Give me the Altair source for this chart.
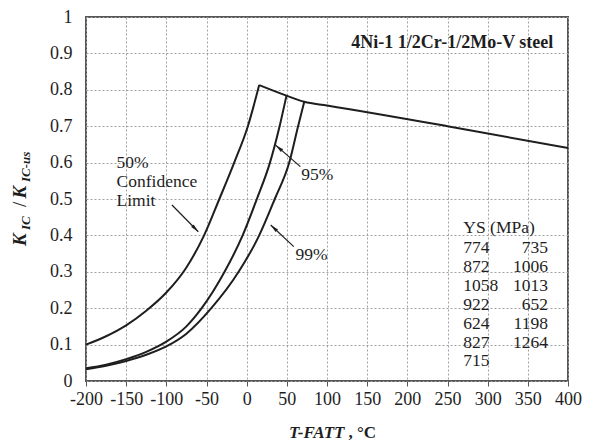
import math
import altair as alt
import pandas as pd

# ---------------- data ----------------
x50 = [-200, -175, -150, -125, -100, -75, -53, -34, -15.5, 1.5, 15.6]
y50 = [0.100, 0.123, 0.153, 0.193, 0.243, 0.312, 0.40, 0.50, 0.60, 0.70, 0.813]

x95 = [-200, -175, -150, -125, -100, -75, -56, -27.5, -5, 12.7, 29, 41, 49.6]
y95 = [0.035, 0.045, 0.060, 0.080, 0.108, 0.150, 0.20, 0.30, 0.40, 0.50, 0.60, 0.70, 0.784]

x99 = [-200, -175, -150, -125, -100, -75, -44, -10, 15.6, 35, 53, 64, 71.7]
y99 = [0.032, 0.042, 0.055, 0.072, 0.095, 0.130, 0.20, 0.30, 0.40, 0.50, 0.60, 0.70, 0.767]

xenv = [15.6, 49.6, 71.7, 100, 250, 400]
yenv = [0.813, 0.784, 0.767, 0.757, 0.70, 0.64]

x_ticks = list(range(-200, 401, 50))
y_ticks = [round(i * 0.1, 1) for i in range(11)]

ys_left = ["774", "872", "1058", "922", "624", "827", "715"]
ys_right = ["735", "1006", "1013", "652", "1198", "1264"]

title_text = "4Ni-1 1/2Cr-1/2Mo-V steel"

# ---------------- layout ----------------
W, H = 482, 364
XMIN, XMAX, YMIN, YMAX = -200, 400, 0, 1
PX_X = W / (XMAX - XMIN)
PX_Y = H / (YMAX - YMIN)
LEFT, TOP, RIGHT, BOTTOM = 78, 9, 14, 62
OX, OY = 8 + LEFT, 8 + TOP   # page position of the plot origin
FONT = "Liberation Serif"
INK = "#1e1e1e"
GRID = "#a0a0a0"

xs = alt.Scale(domain=[XMIN, XMAX], nice=False, zero=False)
ys = alt.Scale(domain=[YMIN, YMAX], nice=False, zero=False)

curves = pd.concat([
    pd.DataFrame({"x": x50, "y": y50, "s": "50"}),
    pd.DataFrame({"x": x95, "y": y95, "s": "95"}),
    pd.DataFrame({"x": x99, "y": y99, "s": "99"}),
    pd.DataFrame({"x": xenv, "y": yenv, "s": "env"}),
])

xaxis = alt.Axis(values=x_ticks, labelExpr="'' + datum.value",
                 grid=True, gridColor=GRID, gridDash=[2, 2], gridWidth=1, gridOpacity=1,
                 tickSize=5, tickColor="#555", tickWidth=1, domain=False,
                 labelOverlap=False, labelFlush=False,
                 labelFont=FONT, labelFontSize=18, labelColor=INK,
                 labelPadding=4, title=None)
yaxis = alt.Axis(values=y_ticks,
                 labelExpr="datum.value == 0 ? '0' : (datum.value == 1 ? '1' : format(datum.value, '.1f'))",
                 grid=True, gridColor=GRID, gridDash=[2, 2], gridWidth=1, gridOpacity=1,
                 ticks=False, tickSize=0, domain=False,
                 labelOverlap=False, labelFlush=False,
                 labelFont=FONT, labelFontSize=18, labelColor=INK,
                 labelPadding=14, title=None)

lines = alt.Chart(curves).mark_line(interpolate="monotone", color=INK, strokeWidth=2).encode(
    x=alt.X("x:Q", scale=xs, axis=xaxis),
    y=alt.Y("y:Q", scale=ys, axis=yaxis),
    detail="s:N",
)

# arrows
arrows = pd.DataFrame({
    "ax1": [-93, 66.8, 58.6],
    "ay1": [0.4835, 0.589, 0.369],
    "ax2": [-60.2, 36.1, 29.9],
    "ay2": [0.41, 0.648, 0.4286],
})
arrows["ang"] = [
    math.degrees(math.atan2((r.ax2 - r.ax1) * PX_X, (r.ay2 - r.ay1) * PX_Y)) % 360
    for r in arrows.itertuples()
]
arrow_lines = alt.Chart(arrows).mark_rule(color=INK, strokeWidth=1.2).encode(
    x=alt.X("ax1:Q", scale=xs, axis=xaxis), x2=alt.X2("ax2"),
    y=alt.Y("ay1:Q", scale=ys, axis=yaxis), y2=alt.Y2("ay2"),
)
arrow_heads = alt.Chart(arrows).mark_point(
    shape="M0,0 L0.45,2.1 L-0.45,2.1 Z", filled=True, size=64, color=INK, opacity=1
).encode(
    x=alt.X("ax2:Q", scale=xs, axis=xaxis), y=alt.Y("ay2:Q", scale=ys, axis=yaxis),
    angle=alt.Angle("ang:Q", scale=None),
)

# annotation text in data coordinates
ann = pd.DataFrame({
    "x": [-162, -162, -162, 68, 60.7],
    "y": [0.5838, 0.533, 0.4821, 0.552, 0.332],
    "t": ["50%", "Confidence", "Limit", "95%", "99%"],
})
ann_layer = alt.Chart(ann).mark_text(
    font=FONT, fontSize=17.5, color=INK, align="left", baseline="alphabetic"
).encode(x=alt.X("x:Q", scale=xs, axis=xaxis), y=alt.Y("y:Q", scale=ys, axis=yaxis), text="t:N")

title_layer = alt.Chart(pd.DataFrame({"x": [130.3], "y": [0.916], "t": [title_text]})).mark_text(
    font=FONT, fontSize=18, fontWeight="bold", color=INK, align="left", baseline="alphabetic"
).encode(x=alt.X("x:Q", scale=xs, axis=xaxis), y=alt.Y("y:Q", scale=ys, axis=yaxis), text="t:N")

# YS table
row0, step = 0.352, 0.052
tbl = pd.DataFrame(
    [{"x": 269.7, "y": 0.4066, "t": "YS (MPa)", "a": "l"}]
    + [{"x": 269.7, "y": row0 - step * i, "t": v, "a": "l"} for i, v in enumerate(ys_left)]
    + [{"x": 375.0, "y": row0 - step * i, "t": v, "a": "r"} for i, v in enumerate(ys_right)]
)
tbl_left = alt.Chart(tbl[tbl.a == "l"]).mark_text(
    font=FONT, fontSize=17.5, color=INK, align="left", baseline="alphabetic"
).encode(x=alt.X("x:Q", scale=xs, axis=xaxis), y=alt.Y("y:Q", scale=ys, axis=yaxis), text="t:N")
tbl_right = alt.Chart(tbl[tbl.a == "r"]).mark_text(
    font=FONT, fontSize=17.5, color=INK, align="right", baseline="alphabetic"
).encode(x=alt.X("x:Q", scale=xs, axis=xaxis), y=alt.Y("y:Q", scale=ys, axis=yaxis), text="t:N")

# axis titles with mixed styles (page pixel positions, converted to the plot frame)
one = pd.DataFrame({"a": [0]})


def ptext(txt, px, py, size, weight="bold", style="italic", angle=0, align="left"):
    return alt.Chart(one).mark_text(
        text=txt, font=FONT, fontSize=size, fontWeight=weight, fontStyle=style,
        angle=angle, align=align, baseline="alphabetic", color=INK,
    ).encode(x=alt.value(px - OX), y=alt.value(py - OY))


ytitle = [
    ptext("K", 25.5, 246, 19, angle=270),
    ptext("IC", 30, 230, 13, angle=270),
    ptext("/", 25.5, 207, 19, weight="normal", style="normal", angle=270),
    ptext("K", 25.5, 198.5, 19, angle=270),
    ptext("IC-us", 30, 182, 13, angle=270),
]
xtitle = [
    ptext("T-FATT", 289, 438, 17),
    ptext(", \u00b0C", 348.5, 438, 17, style="normal"),
]

chart = alt.layer(
    lines, arrow_lines, arrow_heads, ann_layer, title_layer,
    tbl_left, tbl_right, *ytitle, *xtitle,
).properties(
    width=W, height=H,
    autosize=alt.AutoSizeParams(type="none"),
    padding={"left": LEFT, "top": TOP, "right": RIGHT, "bottom": BOTTOM},
    background="white",
).configure_view(stroke="#555", strokeWidth=2)

chart.save("out.html", embed_options={"renderer": "svg", "actions": False})
